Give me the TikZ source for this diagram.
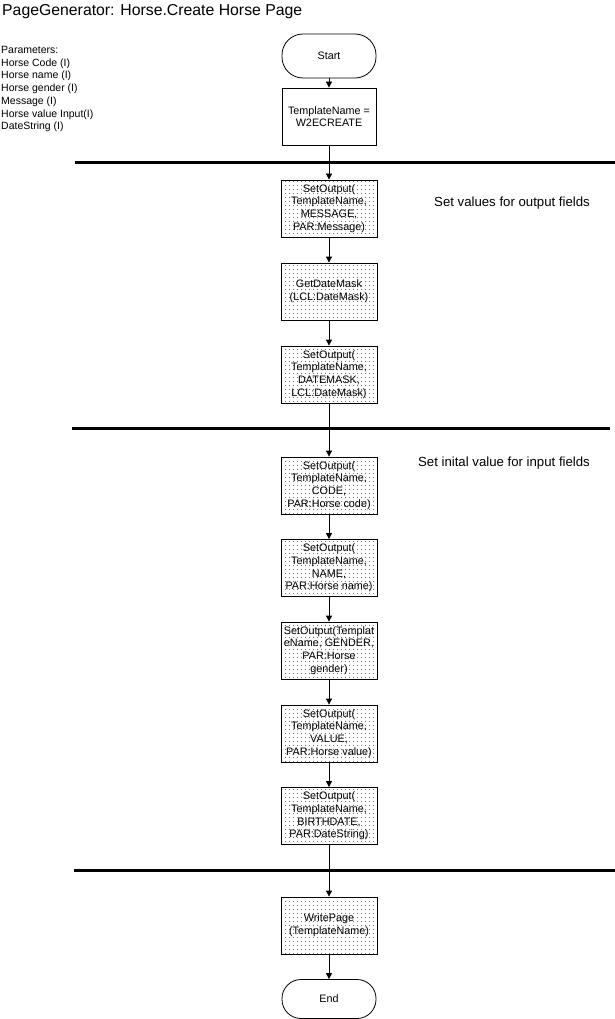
\documentclass[tikz,border=0pt]{standalone}
\usepackage{fontspec}
\setmainfont{Liberation Sans}
\usetikzlibrary{arrows.meta,patterns}
\pgfdeclarepatternformonly{boxdots}{\pgfpoint{0pt}{0pt}}{\pgfpoint{4pt}{4pt}}{\pgfpoint{4pt}{4pt}}{\pgfpathcircle{\pgfpoint{2pt}{2pt}}{0.6pt}\pgfusepath{fill}}
\begin{document}
\begin{tikzpicture}[x=1pt,y=-1pt,
  term/.style={draw, line width=0.8pt, minimum width=94pt, minimum height=44pt, rounded corners=21pt, font=\fontsize{10.8}{12.7}\selectfont, inner sep=0pt},
  plain/.style={draw, line width=0.8pt, minimum width=94pt, minimum height=57pt, align=center, font=\fontsize{10.8}{12.7}\selectfont, inner sep=0pt},
  dotbox/.style={draw, line width=0.8pt, pattern=boxdots, pattern color=black, minimum width=96pt, minimum height=57pt, align=center, font=\fontsize{10.8}{12.7}\selectfont, inner sep=0pt},
  rule/.style={line width=3pt},
  flow/.style={line width=0.8pt, -{Triangle[length=6pt,width=6pt]}},
  note/.style={font=\fontsize{13.2}{15}\selectfont, inner sep=0pt}
]
\useasboundingbox (0,0) rectangle (615,1019);
\fill[white] (0,0) rectangle (615,1019);

\node[anchor=west, inner sep=0pt, font=\fontsize{15.8}{18}\selectfont] (title) at (2,12) {PageGenerator: Horse.Create Horse Page};
\node[anchor=north west, inner sep=0pt, align=left, font=\fontsize{10.5}{12.75}\selectfont] (params) at (1,46) {Parameters:\\Horse Code (I)\\Horse name (I)\\Horse gender (I)\\Message (I)\\Horse value Input(I)\\DateString (I)};

\coordinate (l1a) at (75,163); \coordinate (l1b) at (615,163);
\coordinate (l2a) at (72,428); \coordinate (l2b) at (610,428);
\coordinate (l3a) at (74,870); \coordinate (l3b) at (615,870);
\draw[rule] (l1a) -- (l1b);
\draw[rule] (l2a) -- (l2b);
\draw[rule] (l3a) -- (l3b);

\node[term] (start) at (329,56) {Start};
\node[plain] (tmpl) at (329,116.5) {TemplateName =\\W2ECREATE};
\node[dotbox] (b1) at (329,208.5) {SetOutput(\\TemplateName,\\MESSAGE,\\PAR:Message)};
\node[dotbox] (b2) at (329,291.5) {GetDateMask\\(LCL:DateMask)};
\node[dotbox] (b3) at (329,374.5) {SetOutput(\\TemplateName,\\DATEMASK,\\LCL:DateMask)};
\node[dotbox] (b4) at (329,485.5) {SetOutput(\\TemplateName,\\CODE,\\PAR:Horse code)};
\node[dotbox] (b5) at (329,568) {SetOutput(\\TemplateName,\\NAME,\\PAR:Horse name)};
\node[dotbox] (b6) at (329,650.5) {SetOutput(Templat\\eName, GENDER,\\PAR:Horse\\gender)};
\node[dotbox] (b7) at (329,733.5) {SetOutput(\\TemplateName,\\VALUE,\\PAR:Horse value)};
\node[dotbox] (b8) at (329,816) {SetOutput(\\TemplateName,\\BIRTHDATE,\\PAR:DateString)};
\node[dotbox] (b9) at (329,925.5) {WritePage\\(TemplateName)};
\node[term, minimum height=39pt, rounded corners=19pt] (end) at (329,999) {End};

\node[note] (n1) at (512,203) {Set values for output fields};
\node[note] (n2) at (504,463) {Set inital value for input fields};

\draw[flow] (start) -- (tmpl);
\draw[flow] (tmpl) -- (b1);
\draw[flow] (b1) -- (b2);
\draw[flow] (b2) -- (b3);
\draw[flow] (b3) -- (b4);
\draw[flow] (b4) -- (b5);
\draw[flow] (b5) -- (b6);
\draw[flow] (b6) -- (b7);
\draw[flow] (b7) -- (b8);
\draw[flow] (b8) -- (b9);
\draw[flow] (b9) -- (end);
\end{tikzpicture}
\end{document}
